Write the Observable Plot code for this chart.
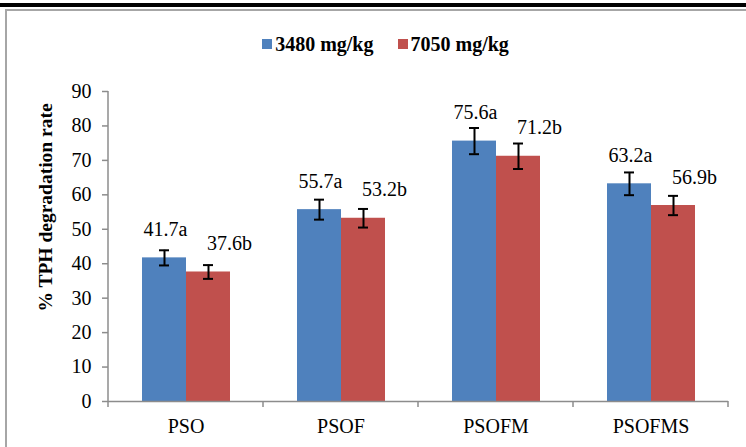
<!DOCTYPE html>
<html><head><meta charset="utf-8">
<script src="https://cdn.jsdelivr.net/npm/d3@7"></script>
<script src="https://cdn.jsdelivr.net/npm/@observablehq/plot@0.6"></script>
<style>
body{margin:0;background:#fff;font-family:'Liberation Serif';}
#wrap{position:relative;width:746px;height:447px;overflow:hidden;background:#fff;font-family:'Liberation Serif';}
#topbar{position:absolute;left:0;top:3px;width:746px;height:4px;background:#000;}
#frame{position:absolute;left:5px;top:9px;width:800px;height:500px;border-left:2px solid #a6a6a6;border-top:2px solid #a6a6a6;box-sizing:border-box;}
#legend{position:absolute;top:33px;left:0;width:771px;height:22px;display:flex;justify-content:center;align-items:center;font-weight:bold;font-size:20px;line-height:22px;color:#000;}
#legend .item{display:flex;align-items:center;}
#legend .item + .item{margin-left:24px;}
#legend .sw{width:10px;height:10px;margin-right:3px;}
#chart{position:absolute;left:8px;top:60px;}
#chart svg text{font-family:'Liberation Serif';}
</style></head>
<body>
<div id="wrap">
  <div id="topbar"></div>
  <div id="frame"></div>
  <div id="legend"></div>
  <div id="chart"></div>
</div>
<script>
const categories = ["PSO", "PSOF", "PSOFM", "PSOFMS"];
const series = ["3480 mg/kg", "7050 mg/kg"];
const colors = ["#4f81bd", "#c0504d"];
const values3480 = [41.7, 55.7, 75.6, 63.2];
const values7050 = [37.6, 53.2, 71.2, 56.9];
const errors3480 = [2.2, 2.9, 3.8, 3.3];
const errors7050 = [2.0, 2.7, 3.7, 2.8];
const letters3480 = ["a", "a", "a", "a"];
const letters7050 = ["b", "b", "b", "b"];
const yTicks = [0, 10, 20, 30, 40, 50, 60, 70, 80, 90];
const yTitle = "% TPH degradation rate";

const AXIS = "#8c8c8c";
const FONT = "Liberation Serif";

const rows = [];
categories.forEach((c, i) => {
  rows.push({category: c, series: series[0], value: values3480[i], err: errors3480[i], letter: letters3480[i]});
  rows.push({category: c, series: series[1], value: values7050[i], err: errors7050[i], letter: letters7050[i]});
});
rows.forEach(d => { d.lo = d.value - d.err; d.hi = d.value + d.err; d.label = d.value.toFixed(1) + d.letter; });

// legend
const legend = d3.select("#legend");
series.forEach((s, i) => {
  const it = legend.append("div").attr("class", "item");
  it.append("div").attr("class", "sw").style("background", colors[i]);
  it.append("span").style("font-family", FONT).text(s);
});

const common = {fx: "category", x: "series"};
const chart = Plot.plot({
  width: 738,
  height: 387,
  marginLeft: 98,
  marginRight: 17,
  marginTop: 31,
  marginBottom: 46,
  style: {fontFamily: FONT, fontSize: "20px", color: "#000", background: "transparent", overflow: "visible"},
  fx: {domain: categories, padding: 0},
  x: {domain: series, paddingInner: 0, paddingOuter: 0.75, axis: null},
  y: {domain: [0, 90]},
  color: {domain: series, range: colors},
  marks: [
    Plot.barY(rows, {...common, y: "value", fill: "series"}),
    Plot.ruleY([0], {stroke: AXIS, strokeWidth: 1.5}),
    Plot.ruleX(rows, {...common, y1: "lo", y2: "hi", stroke: "#000", strokeWidth: 2}),
    Plot.tickY(rows, {...common, y: "lo", stroke: "#000", strokeWidth: 2, insetLeft: 17, insetRight: 17}),
    Plot.tickY(rows, {...common, y: "hi", stroke: "#000", strokeWidth: 2, insetLeft: 17, insetRight: 17}),
    Plot.text(rows.filter(d => d.series === series[0]), {...common, y: "value", text: "label", lineAnchor: "bottom", dy: -22, dx: 1, fill: "#000", fontFamily: FONT}),
    Plot.text(rows.filter(d => d.series === series[1]), {...common, y: "value", text: "label", lineAnchor: "bottom", dy: -22, dx: 21, fill: "#000", fontFamily: FONT}),
    Plot.axisY({ticks: yTicks, tickSize: 6, tickPadding: 11, stroke: AXIS, strokeWidth: 1.5, fill: "#000", fontFamily: FONT, label: yTitle, labelAnchor: "center", labelOffset: 70, labelArrow: "none"}),
    Plot.axisFx({anchor: "bottom", tickSize: 0, tickPadding: 17, label: null, fill: "#000", fontFamily: FONT})
  ]
});
document.getElementById("chart").appendChild(chart);

// axis line and category boundary ticks, positioned through the plot's scales
const fxS = chart.scale("fx"), yS = chart.scale("y");
const svg = d3.select(chart);
svg.selectAll("text").attr("font-family", FONT);
const g = svg.append("g").attr("stroke", AXIS).attr("stroke-width", 1.5).attr("fill", "none");
const y0 = yS.apply(0), yTop = yS.apply(yTicks[yTicks.length - 1]);
const x0 = fxS.apply(categories[0]);
g.append("line").attr("x1", x0).attr("x2", x0).attr("y1", yTop).attr("y2", y0);
const edges = categories.map(c => fxS.apply(c)).concat([fxS.apply(categories[categories.length - 1]) + fxS.bandwidth]);
edges.forEach(x => g.append("line").attr("x1", x).attr("x2", x).attr("y1", y0).attr("y2", y0 + 6));

// y title styling / placement
svg.selectAll('[aria-label="y-axis label"]').each(function() {
  const t = this.getAttribute("transform");
  this.setAttribute("transform", "translate(0,-39)" + (t ? " " + t : ""));
}).attr("font-weight", "bold").attr("font-size", 19.5);
</script>
</body></html>
